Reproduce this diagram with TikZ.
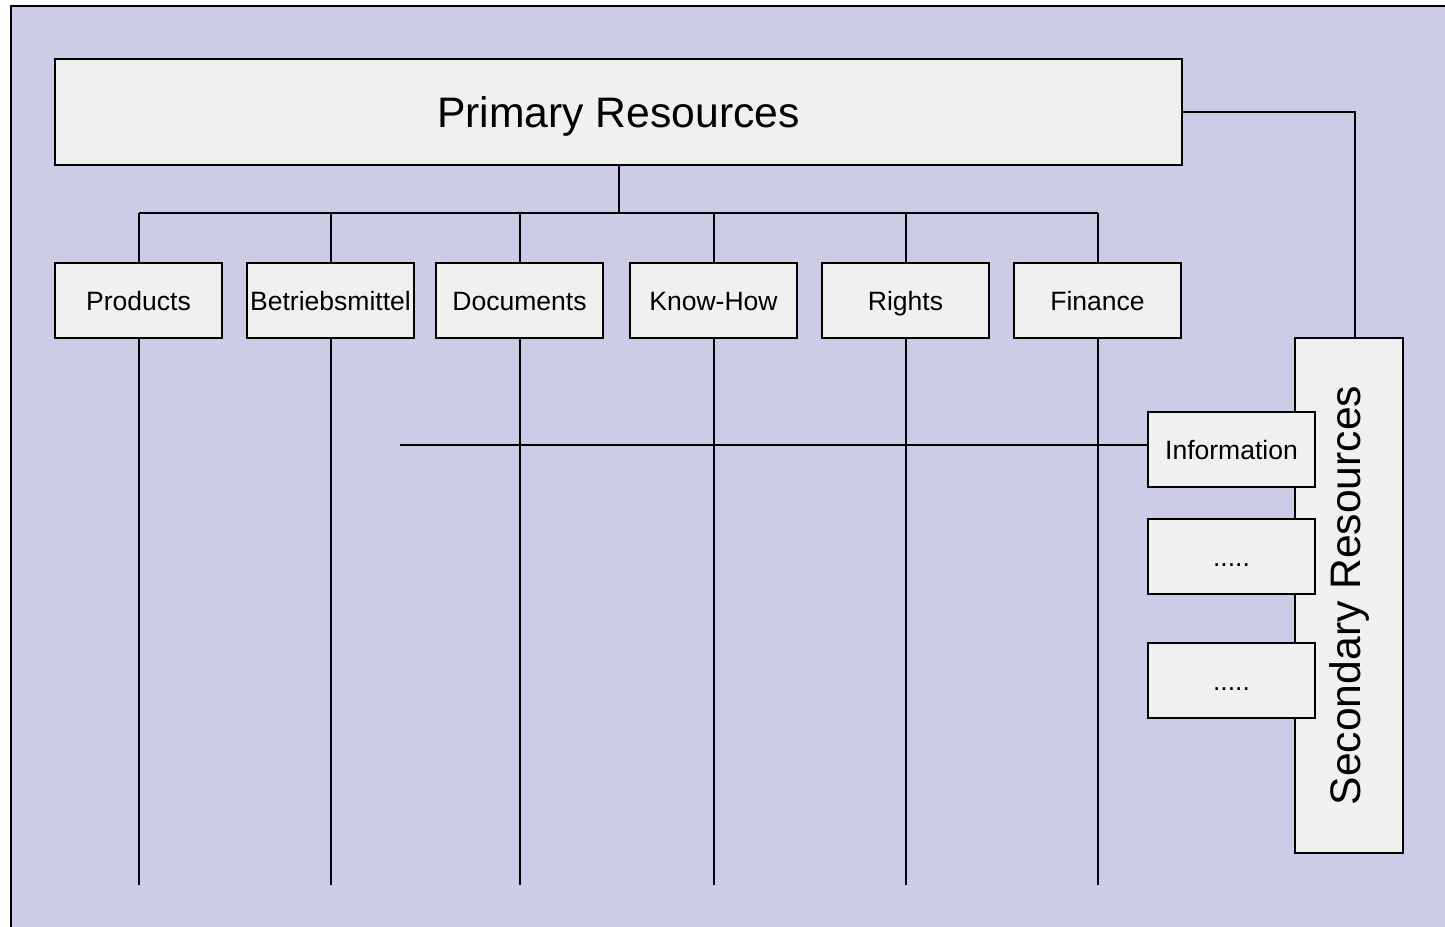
\documentclass[tikz,border=0pt]{standalone}
\usepackage{fontspec}
\setmainfont{Liberation Sans}
\usepackage{tikz}
\usetikzlibrary{positioning}

\definecolor{panel}{RGB}{204,204,230}
\definecolor{boxfill}{RGB}{240,240,240}

\begin{document}
\begin{tikzpicture}[x=0.75pt, y=-0.75pt, node distance=18.75pt, line width=1.5pt,
            res/.style={rectangle, draw, fill=boxfill, align=center, minimum width=125.25pt, minimum height=56.25pt, inner sep=0pt, outer sep=0pt, text height=14.25pt, text depth=0pt, font=\fontsize{19.9}{22}\selectfont},
            big/.style={rectangle, draw, fill=boxfill, align=center, inner sep=0pt, outer sep=0pt, font=\fontsize{32}{36}\selectfont}]

            \useasboundingbox (0,0) rectangle (1445,926);
            % Background
            \draw[fill=panel] (10.5,5.5) rectangle (1460,940);

            % Nodes
            \node[big, minimum width=845.25pt, minimum height=79.5pt, text height=22.9pt, text depth=0pt] (prim) at (618.5,112) {Primary Resources};
            \node[res, anchor=north west] (prod) at ([yshift=-73.5pt]prim.south west) {Products};
            \node[res, right=of prod] (betr) {Betriebsmittel};
            \node[res, right=16.5pt of betr] (doc) {Documents};
            \node[res, right=20.25pt of doc] (know) {Know-How};
            \node[res, right=of know] (rights) {Rights};
            \node[res, right=of rights] (fin) {Finance};

            \node[big, minimum width=81pt, minimum height=386.25pt] (sec) at (1349,595.5) {\rotatebox{90}{Secondary Resources}};
            \node[res] (info) at (1231.5,449.5) {Information};
            \node[res, below=24pt of info] (dotsA) {.....};
            \node[res, below=36.75pt of dotsA] (dotsB) {.....};

            \coordinate (bus) at (0,213);
            \coordinate (foot) at (0,885);
            \coordinate (infostart) at (400,445);

            % Edges
            \draw (prim.south) -- (prim.south |- bus);
            \draw (prod.north |- bus) -- (fin.north |- bus);
            \foreach \n in {prod, betr, doc, know, rights, fin} {
                \draw (\n.north) -- (\n.north |- bus);
                \draw (\n.south) -- (\n.south |- foot);
            }
            \draw (prim.east) -| ([xshift=4.5pt]sec.north);
            \draw (infostart) -- (infostart -| info.west);
\end{tikzpicture}
\end{document}
